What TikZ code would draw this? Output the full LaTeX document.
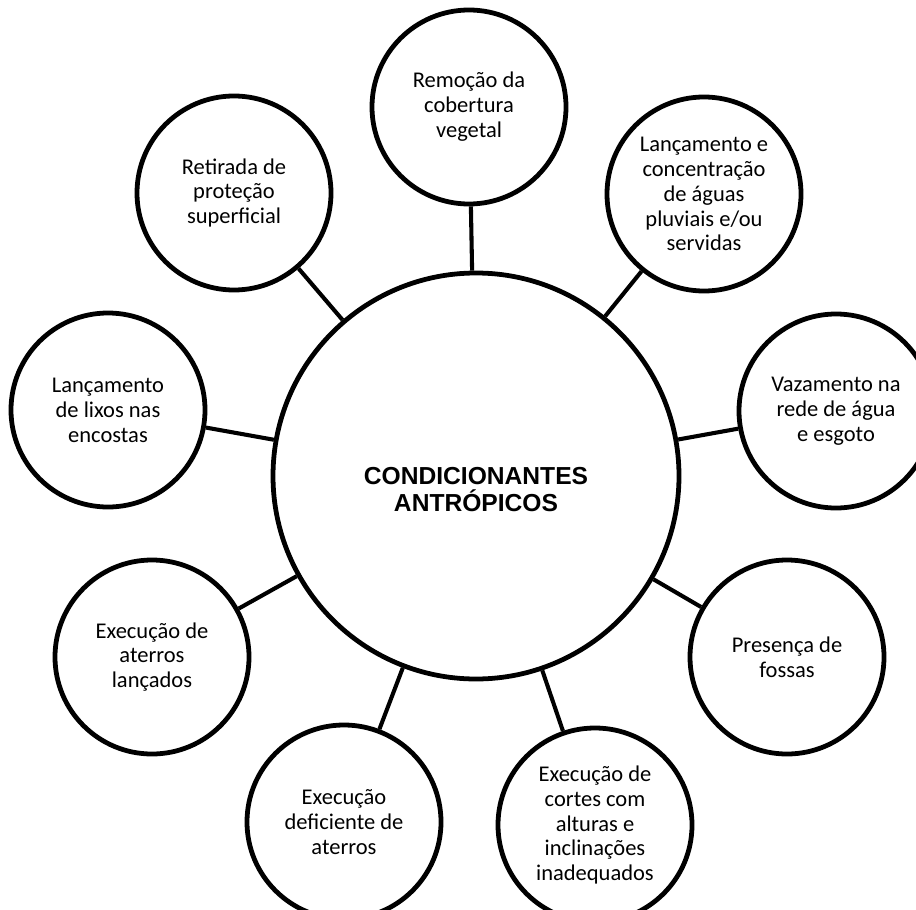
\documentclass[tikz,border=0pt]{standalone}
\usepackage{fontspec}
\setmainfont{Carlito}
\newfontfamily\hubfont{Liberation Sans}
\usetikzlibrary{calc}

\begin{document}
\begin{tikzpicture}[
  font=\fontsize{16pt}{17.7pt}\selectfont,
  every node/.style={font=\fontsize{16pt}{17.7pt}\selectfont},
  hub/.style={
    circle, draw=black, line width=3.4pt, fill=white,
    minimum size=10.15cm, inner sep=0pt
  },
  hubtext/.style={
    align=center, inner sep=0pt,
    font=\hubfont\bfseries\fontsize{17.5pt}{19.2pt}\selectfont
  },
  cause/.style={
    circle, draw=black, line width=3.4pt, fill=white,
    minimum size=4.85cm, inner sep=0pt, align=center
  },
  link/.style={
    line width=2.9pt
  }
]

\useasboundingbox (0,0) rectangle (22.9,-22.725);

% Central node
\node[hub] (hub) at (11.9,-11.9) {};
\node[hubtext] (hublabel) at (11.9,-12.25)
{CONDICIONANTES\\ANTRÓPICOS};

% Surrounding causes
\node[cause] (remocao) at (11.725,-2.675)
{Remoção da\\cobertura\\vegetal};

\node[cause] (aguas) at (17.6,-4.85)
{Lançamento e\\concentração\\de águas\\pluviais e/ou\\servidas};

\node[cause] (vazamento) at (20.9,-10.275)
{Vazamento na\\rede de água\\e esgoto};

\node[cause] (fossas) at (19.675,-16.425)
{Presença de\\fossas};

\node[cause] (cortes) at (14.875,-20.625)
{Execução de\\cortes com\\alturas e\\inclinações\\inadequados};

\node[cause] (aterrosdef) at (8.6,-20.55)
{Execução\\deficiente de\\aterros};

\node[cause] (aterroslanc) at (3.8,-16.425)
{Execução de\\aterros\\lançados};

\node[cause] (lixos) at (2.7,-10.25)
{Lançamento\\de lixos nas\\encostas};

\node[cause] (retirada) at (5.85,-4.825)
{Retirada de\\proteção\\superficial};

% Spokes
\draw[link] (hub) -- (remocao);
\draw[link] (hub) -- (aguas);
\draw[link] (hub) -- (vazamento);
\draw[link] (hub) -- (fossas);
\draw[link] (hub) -- (cortes);
\draw[link] (hub) -- (aterrosdef);
\draw[link] (hub) -- (aterroslanc);
\draw[link] (hub) -- (lixos);
\draw[link] (hub) -- (retirada);

\end{tikzpicture}
\end{document}
